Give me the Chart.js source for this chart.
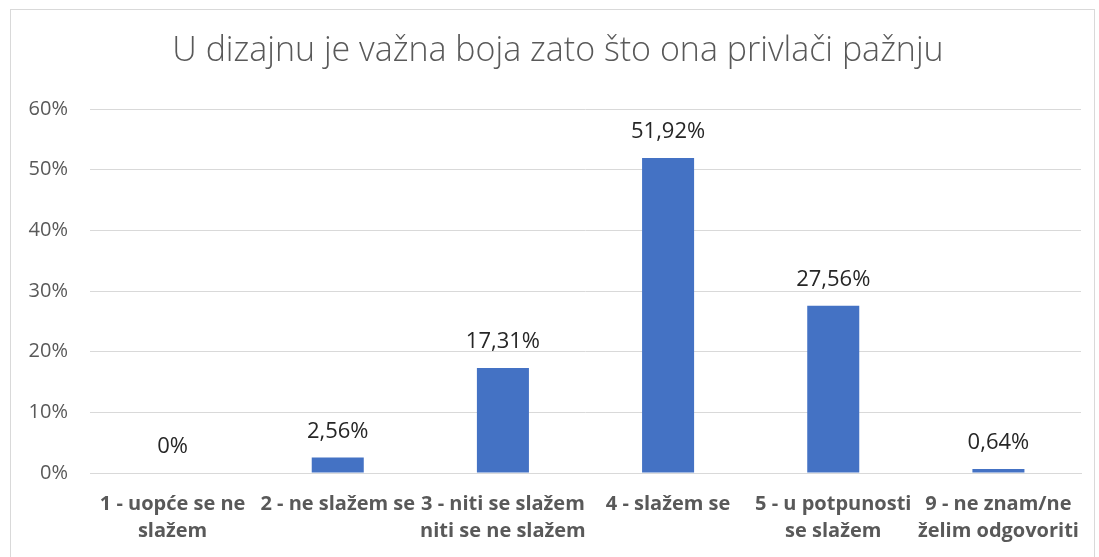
<!DOCTYPE html>
<html>
<head>
<meta charset="utf-8">
<script src="https://cdn.jsdelivr.net/npm/chart.js@4"></script>
<style>
  html, body { margin: 0; padding: 0; background: #fff; }
  #frame { position: absolute; left: 10px; top: 9px; width: 1083px; height: 560px; border: 1px solid #d9d9d9; }
  #wrap { position: absolute; left: 0; top: 0; width: 1099px; height: 557px; }
</style>
</head>
<body>
<div id="frame"></div>
<div id="wrap"><canvas id="chart"></canvas></div>
<script>
const chartTitle = 'U dizajnu je važna boja zato što ona privlači pažnju';

const categories = [
    ['1 - uopće se ne', 'slažem'],
    ['2 - ne slažem se'],
    ['3 - niti se slažem', 'niti se ne slažem'],
    ['4 - slažem se'],
    ['5 - u potpunosti', 'se slažem'],
    ['9 - ne znam/ne', 'želim odgovoriti']
];
const percentages = [0, 2.56, 17.31, 51.92, 27.56, 0.64];
const valueLabels = ['0%', '2,56%', '17,31%', '51,92%', '27,56%', '0,64%'];
const yTicks = [0, 10, 20, 30, 40, 50, 60];

const textGrey = '#595959';
const fontName = '"Open Sans", "Liberation Sans", sans-serif';

// titel zelf tekenen, iets rechts van het midden zoals in Excel
const titlePlugin = {
    id: 'titlePlugin',
    afterDraw(chart) {
        const ctx = chart.ctx;
        ctx.save();
        ctx.font = '300 34px ' + fontName;
        ctx.fillStyle = textGrey;
        ctx.textAlign = 'center';
        ctx.textBaseline = 'middle';
        ctx.fillText(chartTitle, 558, 51);
        ctx.restore();
    }
};

// tekst boven de staven
const barLabels = {
    id: 'barLabels',
    afterDatasetsDraw(chart) {
        const ctx = chart.ctx;
        const meta = chart.getDatasetMeta(0);
        ctx.save();
        ctx.font = '22px ' + fontName;
        ctx.fillStyle = '#262626';
        ctx.textAlign = 'center';
        ctx.textBaseline = 'middle';
        meta.data.forEach((bar, i) => {
            ctx.fillText(valueLabels[i], bar.x, bar.y - 26);
        });
        ctx.restore();
    }
};

new Chart(document.getElementById('chart'), {
    type: 'bar',
    data: {
        labels: categories,
        datasets: [{
            data: percentages,
            backgroundColor: '#4472C4',
            barPercentage: 0.63,
            categoryPercentage: 0.5
        }]
    },
    options: {
        responsive: true,
        maintainAspectRatio: false,
        animation: false,
        layout: { padding: { left: 0, right: 18, top: 109, bottom: 2 } },
        plugins: {
            legend: { display: false },
            tooltip: { enabled: false },
            title: { display: false }
        },
        scales: {
            x: {
                grid: { display: false },
                border: { display: true, color: '#d9d9d9' },
                ticks: {
                    color: textGrey,
                    font: { family: fontName, size: 20, weight: 'bold', lineHeight: 1.35 },
                    padding: 10,
                    maxRotation: 0,
                    autoSkip: false
                }
            },
            y: {
                min: yTicks[0],
                max: yTicks[yTicks.length - 1],
                afterFit(scale) { scale.width = 90; },
                afterBuildTicks(scale) { scale.ticks = yTicks.map(v => ({ value: v })); },
                grid: { color: '#d9d9d9', drawTicks: false },
                border: { display: false },
                ticks: {
                    color: textGrey,
                    padding: 22,
                    font: { family: fontName, size: 20 },
                    callback: v => v + '%'
                }
            }
        }
    },
    plugins: [barLabels, titlePlugin]
});
</script>
</body>
</html>
